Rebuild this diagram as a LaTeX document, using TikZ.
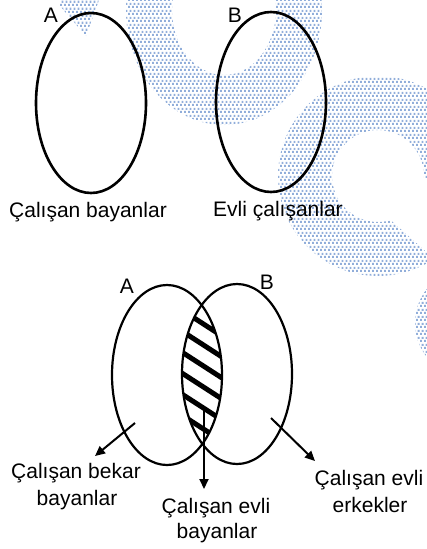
\documentclass[tikz,border=0pt]{standalone}
\usepackage{fontspec}
\setmainfont{Liberation Sans}
\usetikzlibrary{arrows.meta,patterns.meta}
\definecolor{wmdot}{RGB}{145,174,218}
\pgfdeclarepattern{
  name=wmdots,
  type=uncolored,
  bottom left={\pgfpoint{0pt}{0pt}},
  top right={\pgfpoint{4pt}{6.6pt}},
  tile size={\pgfpoint{4pt}{6.6pt}},
  code={
    \pgfpathrectangle{\pgfpoint{0pt}{0pt}}{\pgfpoint{2.2pt}{2.2pt}}
    \pgfpathrectangle{\pgfpoint{2pt}{3.3pt}}{\pgfpoint{2.2pt}{2.2pt}}
    \pgfusepath{fill}
  }
}
\begin{document}
\begin{tikzpicture}[x=1pt,y=-1pt,
  lbl/.style={font=\fontsize{21}{26}\selectfont, inner sep=0pt, anchor=base},
  toprim/.style={line width=2.6pt},
  botrim/.style={line width=2.2pt},
  stripe/.style={line width=5pt},
  wm/.style={pattern=wmdots, pattern color=wmdot},
  arr/.style={line width=2pt, -{Triangle[length=10pt,width=9pt]}}]
\useasboundingbox (0,0) rectangle (426,549);
% watermark
\fill[wm, even odd rule] (224,10) ellipse [x radius=98, y radius=115]
                         (224,10) ellipse [x radius=52, y radius=65];
\fill[wm] (60,0) -- (60,6) -- (86,36) -- (99,0) -- cycle;
\fill[wm, even odd rule] (378,176) circle [radius=100]
                         (378,176) circle [radius=46];
\fill[white] (378,178) -- (430,178) -- (430,255) -- (385,215) -- cycle;
\fill[wm] (470,323) circle [radius=55];
% top sets
\draw[toprim] (91,103) ellipse [x radius=55, y radius=90];
\draw[toprim] (271,102) ellipse [x radius=55, y radius=90];
\node[lbl] (tA) at (51,22) {A};
\node[lbl] (tB) at (235,22) {B};
\node[lbl] (tAl) at (88,217) {Çalışan bayanlar};
\node[lbl] (tBl) at (278,216) {Evli çalışanlar};
% bottom sets: hatched intersection
\begin{scope}
  \clip (167,375) ellipse [x radius=55, y radius=90];
  \clip (237,374) ellipse [x radius=55, y radius=90];
  \foreach \k in {0,...,10} {
    \draw[stripe] (140,262+21*\k) -- ++(130,84);
  }
\end{scope}
\draw[botrim] (167,375) ellipse [x radius=55, y radius=90];
\draw[botrim] (237,374) ellipse [x radius=55, y radius=90];
\node[lbl] (bA) at (127,293) {A};
\node[lbl] (bB) at (267,289) {B};
% arrows
\coordinate (aL) at (135,423);
\coordinate (aLt) at (95,456);
\coordinate (aM) at (204,410);
\coordinate (aMt) at (204,489);
\coordinate (aR) at (271,418);
\coordinate (aRt) at (315,461);
\draw[arr] (aL) -- (aLt);
\draw[arr] (aM) -- (aMt);
\draw[arr] (aR) -- (aRt);
% labels
\node[lbl] (l1) at (76,478) {Çalışan bekar};
\node[lbl] (l1b) at (77,505) {bayanlar};
\node[lbl] (l2) at (216,513) {Çalışan evli};
\node[lbl] (l2b) at (217,538) {bayanlar};
\node[lbl] (l3) at (369,485) {Çalışan evli};
\node[lbl] (l3b) at (370,512) {erkekler};
\end{tikzpicture}
\end{document}
